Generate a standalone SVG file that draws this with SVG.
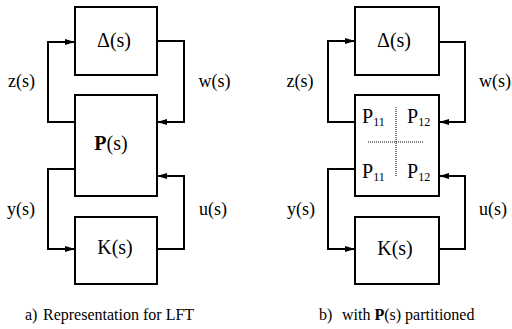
<svg xmlns="http://www.w3.org/2000/svg" width="512" height="329" viewBox="0 0 512 329" font-family="'Liberation Serif', 'DejaVu Serif', serif">
  <defs>
    <marker id="arr" markerUnits="userSpaceOnUse" markerWidth="10" markerHeight="6" refX="10" refY="3" orient="auto">
      <path d="M0,0 L10,3 L0,6 z" fill="#000"/>
    </marker>
    <style>
      .box { fill: #fff; stroke: #000; stroke-width: 2; }
      .wire { fill: none; stroke: #000; stroke-width: 2; marker-end: url(#arr); }
      .dot { fill: none; stroke: #000; stroke-width: 1; stroke-dasharray: 1 1; }
      text { font-family: 'Liberation Serif', 'DejaVu Serif', serif; fill: #000; }
      .big { font-size: 20px; text-anchor: middle; }
      .lbl { font-size: 18px; text-anchor: middle; }
      .cap { font-size: 16px; }
      .pp { font-size: 20px; }
      .sub { font-size: 12px; }
    </style>
  </defs>
  <rect width="512" height="329" fill="#fff"/>

  <!-- connectors -->
  <g id="connectors">
    <path class="wire" d="M75,122 H48 V42 H75"/>
    <path class="wire" d="M157,41 H184 V122 H157"/>
    <path class="wire" d="M75,169 H48 V249 H75"/>
    <path class="wire" d="M157,249 H184 V176 H157"/>
    <path class="wire" d="M355,122 H328 V41 H355"/>
    <path class="wire" d="M439,42 H465 V122 H439"/>
    <path class="wire" d="M355,169 H328 V249 H355"/>
    <path class="wire" d="M439,249 H465 V176 H439"/>
  </g>

  <g id="delta-a">
    <rect class="box" x="75" y="7" width="82" height="68"/>
    <text class="big" x="114" y="47">Δ(s)</text>
  </g>
  <g id="P-a">
    <rect class="box" x="75" y="95" width="82" height="101"/>
    <text class="big" x="111" y="150"><tspan font-weight="bold">P</tspan>(s)</text>
  </g>
  <g id="K-a">
    <rect class="box" x="75" y="217" width="82" height="67"/>
    <text class="big" x="115" y="254">K(s)</text>
  </g>

  <g id="delta-b">
    <rect class="box" x="355" y="7" width="84" height="68"/>
    <text class="big" x="394" y="47">Δ(s)</text>
  </g>
  <g id="P-b">
    <rect class="box" x="355" y="95" width="84" height="101"/>
    <path class="dot" d="M396,107 V177"/>
    <path class="dot" d="M368,142 H423"/>
    <text class="pp" x="362" y="123">P<tspan class="sub" dy="3">11</tspan></text>
    <text class="pp" x="407" y="123">P<tspan class="sub" dy="3">12</tspan></text>
    <text class="pp" x="362" y="178">P<tspan class="sub" dy="3">11</tspan></text>
    <text class="pp" x="407" y="178">P<tspan class="sub" dy="3">12</tspan></text>
  </g>
  <g id="K-b">
    <rect class="box" x="355" y="217" width="84" height="67"/>
    <text class="big" x="395" y="255">K(s)</text>
  </g>

  <g id="labels">
    <text class="lbl" x="21.5" y="87">z(s)</text>
    <text class="lbl" x="214.5" y="87">w(s)</text>
    <text class="lbl" x="21" y="215">y(s)</text>
    <text class="lbl" x="213" y="215">u(s)</text>
    <text class="lbl" x="300" y="87">z(s)</text>
    <text class="lbl" x="495" y="87">w(s)</text>
    <text class="lbl" x="301" y="215">y(s)</text>
    <text class="lbl" x="493" y="215">u(s)</text>
  </g>

  <g id="captions">
    <text class="cap" x="25" y="320">a)</text>
    <text class="cap" x="43" y="320">Representation for LFT</text>
    <text class="cap" x="319" y="320" font-size="15.5">b)</text>
    <text class="cap" x="342" y="320" font-size="15.5">with <tspan font-weight="bold">P</tspan>(s) partitioned</text>
  </g>
</svg>
